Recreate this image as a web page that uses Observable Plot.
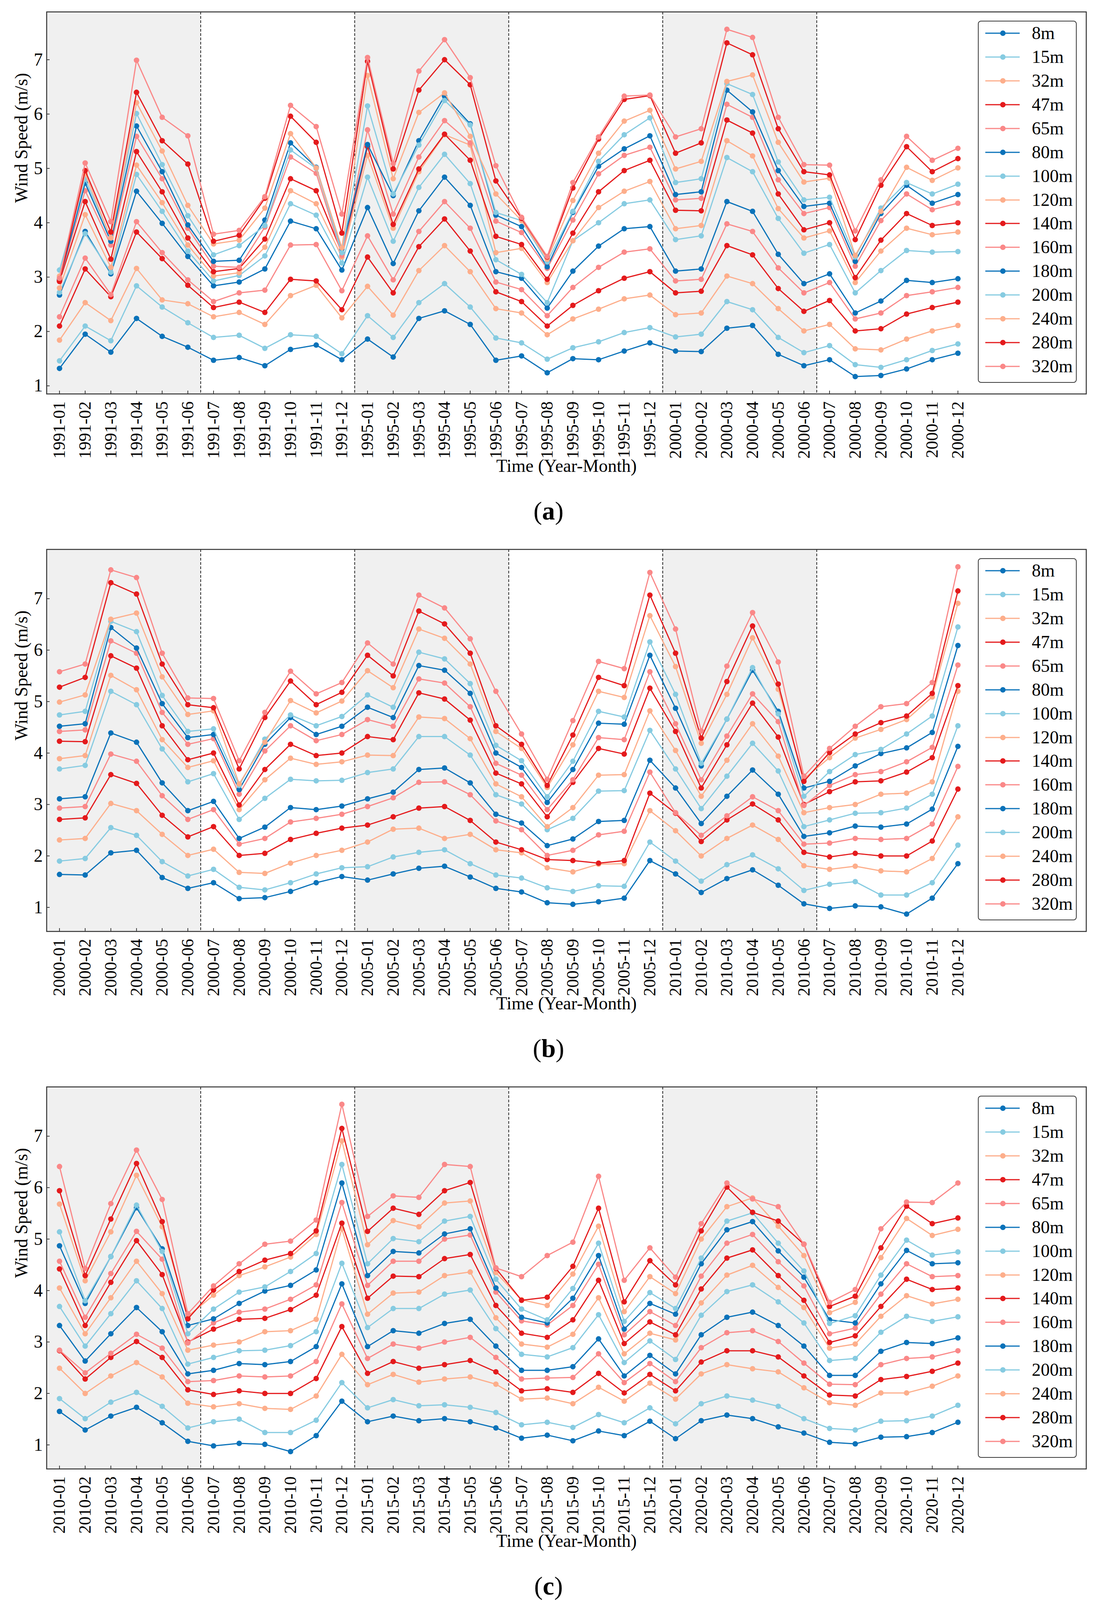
<!DOCTYPE html>
<html>
<head>
<meta charset="utf-8">
<script src="https://cdn.jsdelivr.net/npm/d3@7"></script>
<script src="https://cdn.jsdelivr.net/npm/@observablehq/plot@0.6"></script>
<style>
  html, body { margin: 0; padding: 0; background: #fff; overflow: hidden; }
  body { width: 2809px; font-family: "Liberation Serif", "Times New Roman", serif; color: #000; }
  .panel { position: relative; width: 2809px; height: 1376px; }
  .panel.last { height: 1367px; }
  .panel > svg { max-width: none; display: block; }
  .caption { position: absolute; left: 0; width: 2809px; top: 1274px; text-align: center; font-size: 66px; line-height: 68px; }
  .legend { position: absolute; left: 2504px; top: 53px; width: 253px; height: 927px; box-sizing: border-box;
            border: 2px solid #3a3a3a; border-radius: 8px; background: #fff; }
  .legend .row { position: absolute; left: 0; width: 249px; height: 60px; }
  .legend .row svg { position: absolute; left: 15px; top: 0; }
  .legend .row span { position: absolute; left: 136px; top: 0; line-height: 60px; font-size: 46px; white-space: nowrap; }
</style>
</head>
<body>
<div id="root"></div>
<script>
// ---------- data ----------
const heights = ["8m","15m","32m","47m","65m","80m","100m","120m","140m","160m","180m","200m","240m","280m","320m"];
const palette = ["#0a72b9", "#86cbe1", "#fdae8b", "#e41a1c", "#fa8888"];
const months = ["01","02","03","04","05","06","07","08","09","10","11","12"];
const yTicks = [1, 2, 3, 4, 5, 6, 7];

// each row: one month, values for 8m ... 320m
const ws1991 = [
  [1.32,1.46,1.84,2.10,2.27,2.67,2.72,2.80,2.92,2.95,2.95,3.13,3.02,2.93,2.98],
  [1.95,2.10,2.53,3.15,3.35,3.84,3.80,4.15,4.39,4.59,4.73,4.80,4.90,4.96,5.10],
  [1.62,1.83,2.20,2.64,2.68,3.06,3.09,3.18,3.33,3.59,3.66,3.73,3.72,3.83,4.02],
  [2.24,2.84,3.16,3.83,4.02,4.58,4.89,5.06,5.31,5.59,5.78,6.01,6.21,6.40,6.99],
  [1.91,2.45,2.58,3.34,3.45,3.99,4.21,4.37,4.57,4.81,4.94,5.07,5.32,5.51,5.94],
  [1.71,2.16,2.51,2.85,2.95,3.38,3.48,3.59,3.72,3.90,3.96,4.13,4.32,5.08,5.60],
  [1.47,1.89,2.27,2.44,2.55,2.84,2.93,3.02,3.10,3.20,3.29,3.41,3.61,3.66,3.79],
  [1.52,1.93,2.35,2.54,2.71,2.91,3.03,3.08,3.16,3.18,3.31,3.58,3.68,3.77,3.86],
  [1.37,1.69,2.13,2.35,2.76,3.15,3.39,3.55,3.70,3.92,4.05,3.95,4.27,4.45,4.48],
  [1.67,1.94,2.66,2.96,3.59,4.03,4.35,4.59,4.81,5.21,5.47,5.34,5.64,5.96,6.16],
  [1.75,1.91,2.85,2.93,3.60,3.89,4.14,4.35,4.59,4.91,5.02,5.00,5.01,5.48,5.77],
  [1.48,1.59,2.25,2.40,2.75,3.13,3.26,3.37,3.45,3.40,3.52,3.45,3.54,3.81,4.16]
];
const ws1995 = [
  [1.86,2.29,2.83,3.37,3.76,4.28,4.84,5.24,5.40,5.71,5.44,6.15,6.71,6.97,7.04],
  [1.53,1.89,2.30,2.71,2.95,3.25,3.66,3.90,3.97,4.16,4.50,4.53,4.81,4.99,5.09],
  [2.24,2.53,3.12,3.56,3.84,4.22,4.65,4.94,4.99,5.21,5.51,5.43,6.03,6.44,6.79],
  [2.38,2.88,3.58,4.07,4.39,4.84,5.26,5.62,5.63,5.88,6.33,6.25,6.39,7.00,7.37],
  [2.13,2.45,3.10,3.48,3.90,4.32,4.72,5.43,5.15,5.47,5.82,5.80,5.59,6.54,6.67],
  [1.47,1.88,2.42,2.73,2.91,3.10,3.32,3.45,3.75,4.03,4.14,4.19,4.53,4.77,5.05],
  [1.55,1.79,2.34,2.55,2.77,2.98,3.05,3.53,3.60,3.82,3.93,4.04,4.04,4.08,4.10],
  [1.24,1.49,1.94,2.10,2.29,2.43,2.53,2.90,2.96,3.16,3.19,3.28,3.33,3.37,3.38],
  [1.50,1.70,2.23,2.48,2.81,3.11,3.67,3.67,3.81,4.05,4.19,4.21,4.41,4.64,4.74],
  [1.48,1.81,2.41,2.75,3.18,3.57,4.00,4.28,4.57,4.90,5.04,5.13,5.28,5.54,5.58],
  [1.64,1.98,2.60,2.98,3.46,3.89,4.35,4.58,4.96,5.24,5.36,5.62,5.87,6.27,6.33],
  [1.79,2.07,2.67,3.10,3.52,3.93,4.42,4.76,5.15,5.39,5.60,5.93,6.07,6.34,6.35]
];
const ws2000 = [
  [1.64,1.90,2.31,2.71,2.93,3.11,3.69,3.89,4.23,4.42,4.52,4.74,4.99,5.28,5.58],
  [1.63,1.95,2.34,2.74,2.96,3.15,3.76,3.95,4.22,4.45,4.57,4.81,5.13,5.47,5.73],
  [2.06,2.55,3.02,3.58,3.98,4.39,5.20,5.51,5.89,6.18,6.44,6.56,6.60,7.31,7.56],
  [2.11,2.40,2.88,3.41,3.84,4.21,4.94,5.23,5.65,5.94,6.04,6.36,6.72,7.09,7.41],
  [1.58,1.89,2.42,2.79,3.17,3.42,4.08,4.26,4.53,4.79,4.96,5.12,5.48,5.73,5.94],
  [1.37,1.61,2.01,2.37,2.71,2.88,3.44,3.72,3.87,4.17,4.30,4.42,4.75,4.94,5.07],
  [1.48,1.74,2.13,2.57,2.90,3.06,3.60,3.85,4.00,4.28,4.36,4.47,4.82,4.88,5.06],
  [1.17,1.39,1.68,2.01,2.23,2.34,2.71,2.90,2.99,3.20,3.29,3.37,3.40,3.69,3.85],
  [1.19,1.34,1.66,2.05,2.34,2.56,3.12,3.48,3.68,4.04,4.17,4.27,4.21,4.69,4.79],
  [1.31,1.48,1.86,2.32,2.66,2.94,3.49,3.90,4.17,4.53,4.69,4.74,5.02,5.40,5.59],
  [1.48,1.65,2.01,2.44,2.73,2.90,3.46,3.78,3.95,4.24,4.36,4.53,4.78,4.94,5.15],
  [1.60,1.77,2.11,2.54,2.81,2.97,3.47,3.83,4.00,4.36,4.52,4.71,5.01,5.18,5.37]
];
const ws2005 = [
  [1.53,1.79,2.27,2.60,2.96,3.11,3.62,3.96,4.32,4.65,4.89,5.13,5.60,5.90,6.14],
  [1.65,1.98,2.52,2.76,3.13,3.24,3.69,3.95,4.26,4.52,4.69,4.89,5.27,5.50,5.73],
  [1.76,2.07,2.54,2.93,3.43,3.68,4.32,4.70,5.17,5.44,5.70,5.96,6.41,6.76,7.07],
  [1.80,2.12,2.34,2.96,3.44,3.71,4.32,4.67,5.05,5.36,5.61,5.83,6.23,6.51,6.82],
  [1.59,1.85,2.42,2.69,3.19,3.42,3.96,4.28,4.64,4.90,5.16,5.35,5.73,5.94,6.22],
  [1.37,1.63,2.12,2.27,2.68,2.81,3.19,3.40,3.61,3.80,4.00,4.15,4.42,4.53,5.20],
  [1.30,1.57,2.06,2.12,2.51,2.64,3.01,3.15,3.40,3.57,3.72,3.85,4.09,4.17,4.37],
  [1.09,1.38,1.77,1.93,2.01,2.20,2.51,2.57,2.76,2.90,3.04,3.15,3.33,3.37,3.49],
  [1.06,1.31,1.69,1.91,2.11,2.33,2.73,2.94,3.43,3.48,3.68,3.84,4.16,4.35,4.63],
  [1.11,1.42,1.84,1.86,2.41,2.67,3.26,3.57,4.09,4.30,4.58,4.81,5.20,5.47,5.78],
  [1.18,1.41,1.85,1.91,2.48,2.69,3.27,3.58,3.98,4.26,4.56,4.70,5.08,5.31,5.64],
  [1.91,2.27,2.88,3.22,3.63,3.86,4.44,4.82,5.26,5.58,5.90,6.16,6.67,7.07,7.51]
];
const ws2010 = [
  [1.65,1.90,2.49,2.83,2.84,3.32,3.69,4.05,4.42,4.57,4.87,5.14,5.68,5.94,6.41],
  [1.29,1.51,2.00,2.28,2.40,2.63,2.92,3.16,3.32,3.48,3.75,3.80,4.19,4.29,4.43],
  [1.56,1.83,2.34,2.70,2.78,3.16,3.55,3.86,4.16,4.33,4.66,4.66,5.14,5.39,5.69],
  [1.73,2.02,2.60,3.01,3.15,3.67,4.19,4.57,4.97,5.15,5.61,5.66,6.24,6.47,6.73],
  [1.43,1.75,2.32,2.70,2.88,3.20,3.65,3.94,4.31,4.61,4.81,4.76,5.24,5.34,5.77],
  [1.07,1.33,1.81,2.07,2.23,2.38,2.57,2.84,3.00,2.98,3.32,3.16,3.50,3.45,3.55],
  [0.98,1.45,1.74,1.98,2.25,2.45,2.70,2.94,3.25,3.37,3.45,3.64,3.91,4.01,4.09],
  [1.03,1.50,1.80,2.05,2.34,2.58,2.83,3.00,3.44,3.58,3.75,3.97,4.29,4.37,4.52],
  [1.01,1.24,1.71,2.00,2.32,2.56,2.84,3.20,3.46,3.64,3.99,4.07,4.46,4.59,4.90],
  [0.87,1.24,1.69,2.00,2.34,2.62,2.93,3.22,3.63,3.83,4.10,4.37,4.65,4.72,4.96],
  [1.18,1.48,1.95,2.29,2.62,2.91,3.20,3.44,3.91,4.11,4.40,4.72,5.09,5.16,5.37],
  [1.85,2.21,2.76,3.30,3.74,4.13,4.53,5.20,5.31,5.71,6.09,6.45,6.91,7.15,7.62]
];
const ws2015 = [
  [1.45,1.72,2.17,2.39,2.68,2.91,3.28,3.54,3.85,4.10,4.29,4.52,4.89,5.15,5.44],
  [1.56,1.88,2.37,2.62,2.96,3.22,3.65,3.95,4.28,4.57,4.76,5.01,5.36,5.60,5.84],
  [1.47,1.76,2.22,2.49,2.88,3.17,3.65,3.97,4.27,4.57,4.73,4.95,5.24,5.48,5.81],
  [1.51,1.78,2.28,2.56,3.00,3.36,3.93,4.29,4.62,5.00,5.10,5.35,5.70,5.94,6.45],
  [1.45,1.73,2.32,2.64,3.09,3.44,4.01,4.36,4.70,5.08,5.20,5.44,5.74,6.10,6.41],
  [1.33,1.63,2.18,2.42,2.70,2.92,3.26,3.47,3.71,3.97,4.05,4.22,4.35,4.43,4.44],
  [1.13,1.39,1.89,2.05,2.28,2.45,2.76,2.96,3.17,3.41,3.48,3.64,3.82,3.81,4.27],
  [1.19,1.44,1.91,2.09,2.30,2.45,2.71,2.90,3.09,3.33,3.37,3.43,3.71,3.87,4.68],
  [1.08,1.34,1.80,2.02,2.31,2.52,2.89,3.15,3.43,3.71,3.85,4.04,4.32,4.47,4.94],
  [1.27,1.59,2.12,2.39,2.77,3.06,3.53,3.86,4.20,4.51,4.68,4.92,5.25,5.60,6.22],
  [1.18,1.43,1.85,2.01,2.21,2.34,2.60,2.77,2.97,3.14,3.25,3.40,3.59,3.78,4.20],
  [1.46,1.72,2.20,2.37,2.58,2.74,3.02,3.17,3.39,3.59,3.75,3.96,4.27,4.58,4.83]
];
const ws2020 = [
  [1.12,1.41,1.89,2.05,2.23,2.38,2.66,3.04,3.14,3.32,3.54,3.65,3.94,4.11,4.26],
  [1.47,1.80,2.38,2.61,2.89,3.14,3.52,3.76,4.03,4.28,4.52,4.63,5.00,5.16,5.30],
  [1.58,1.95,2.56,2.83,3.18,3.48,3.98,4.30,4.63,4.92,5.18,5.35,5.63,6.01,6.09],
  [1.51,1.87,2.48,2.83,3.22,3.58,4.11,4.49,4.79,5.09,5.34,5.51,5.80,5.52,5.78],
  [1.35,1.75,2.42,2.71,3.01,3.32,3.78,4.06,4.29,4.56,4.77,4.92,5.25,5.35,5.63],
  [1.23,1.51,2.11,2.34,2.59,2.92,3.37,3.67,3.81,4.09,4.26,4.38,4.68,4.90,4.90],
  [1.05,1.32,1.82,1.97,2.18,2.35,2.64,2.88,2.99,3.16,3.43,3.36,3.57,3.69,3.77],
  [1.02,1.29,1.77,1.95,2.17,2.35,2.68,2.96,3.12,3.27,3.37,3.51,3.77,3.89,4.02],
  [1.15,1.46,2.01,2.27,2.56,2.82,3.19,3.50,3.69,3.93,4.13,4.30,4.64,4.83,5.20],
  [1.16,1.47,2.01,2.33,2.68,2.99,3.50,3.90,4.22,4.52,4.78,4.98,5.40,5.64,5.72],
  [1.24,1.56,2.14,2.43,2.71,2.97,3.40,3.74,4.02,4.27,4.52,4.69,5.07,5.30,5.71],
  [1.44,1.77,2.34,2.59,2.83,3.08,3.49,3.83,4.05,4.29,4.54,4.75,5.19,5.41,6.09]
];

const byYear = {1991: ws1991, 1995: ws1995, 2000: ws2000, 2005: ws2005, 2010: ws2010, 2015: ws2015, 2020: ws2020};
const panels = [
  {caption: "a", years: [1991, 1995, 2000]},
  {caption: "b", years: [2000, 2005, 2010]},
  {caption: "c", years: [2010, 2015, 2020]}
];
const xLabel = "Time (Year-Month)";
const yLabel = "Wind Speed (m/s)";

// ---------- drawing ----------
const root = document.getElementById("root");
const color = i => palette[i % palette.length];

panels.forEach((p, pi) => {
  const rows = [];
  const labels = [];
  p.years.forEach((yr, g) => {
    months.forEach((m, mi) => {
      const i = g * 12 + mi;
      labels[i] = `${yr}-${m}`;
      heights.forEach((h, s) => rows.push({i, s, h, v: byYear[yr][mi][s]}));
    });
  });
  const idx = labels.map((_, i) => i);
  const n = labels.length;
  const vmin = d3.min(rows, d => d.v), vmax = d3.max(rows, d => d.v);
  const pad = (vmax - vmin) * 0.05;
  const shades = p.years.map((_, g) => [g * 12 - 0.5, g * 12 + 5.5]);
  const dividers = d3.range(6, n, 6).map(i => i - 0.5);

  const seriesMarks = heights.flatMap((h, s) => {
    const d = rows.filter(r => r.s === s);
    return [
      Plot.line(d, {x: "i", y: "v", stroke: color(s), strokeWidth: 3}),
      Plot.dot(d, {x: "i", y: "v", fill: color(s), r: 7})
    ];
  });

  const chart = Plot.plot({
    width: 2809,
    height: 1248,
    marginLeft: 119,
    marginRight: 28,
    marginTop: 30,
    marginBottom: 240,
    style: {fontFamily: "'Liberation Serif', 'Times New Roman', serif", fontSize: "46px", background: "transparent", overflow: "visible", color: "#000"},
    x: {type: "linear", domain: [-0.5, n + 4], label: null},
    y: {domain: [vmin - pad, vmax + pad], label: null},
    marks: [
      Plot.rect(shades, {x1: d => d[0], x2: d => d[1], fill: "#f0f0f0"}),
      Plot.ruleX(dividers, {stroke: "#262626", strokeWidth: 2, strokeDasharray: "7,4"}),
      ...seriesMarks,
      Plot.axisY({ticks: yTicks, tickSize: -8, tickFormat: () => "", label: null, strokeWidth: 1.5}),
      Plot.axisY({ticks: yTicks, tickSize: 0, tickPadding: 10, tickFormat: d => String(d), fontSize: 46, label: null}),
      Plot.axisX({ticks: idx, tickSize: -8, tickFormat: () => "", label: null, strokeWidth: 1.5}),
      Plot.axisX({ticks: idx, tickSize: 0, tickPadding: 19, tickRotate: -90, textAnchor: "end", lineAnchor: "middle",
                  tickFormat: i => labels[i], fontSize: 44, label: null}),
      Plot.text([yLabel], {text: d => d, frameAnchor: "left", dx: -64, rotate: -90, fontSize: 46}),
      Plot.text([xLabel], {text: d => d, frameAnchor: "bottom", dy: 199, fontSize: 46}),
      Plot.frame({stroke: "#333", strokeWidth: 2.5})
    ]
  });

  const panel = document.createElement("div");
  panel.className = "panel" + (pi === panels.length - 1 ? " last" : "");
  panel.appendChild(chart);

  // legend
  const leg = document.createElement("div");
  leg.className = "legend";
  heights.forEach((h, s) => {
    const row = document.createElement("div");
    row.className = "row";
    row.style.top = (32 + 60.93 * s - 2 - 30) + "px";
    row.innerHTML = `<svg width="92" height="60" viewBox="0 0 92 60">
        <line x1="2" y1="30" x2="90" y2="30" stroke="${color(s)}" stroke-width="3"/>
        <circle cx="47" cy="30" r="7" fill="${color(s)}"/></svg><span>${h}</span>`;
    leg.appendChild(row);
  });
  panel.appendChild(leg);

  const cap = document.createElement("div");
  cap.className = "caption";
  cap.innerHTML = `(<b>${p.caption}</b>)`;
  panel.appendChild(cap);

  root.appendChild(panel);
});
</script>
</body>
</html>
